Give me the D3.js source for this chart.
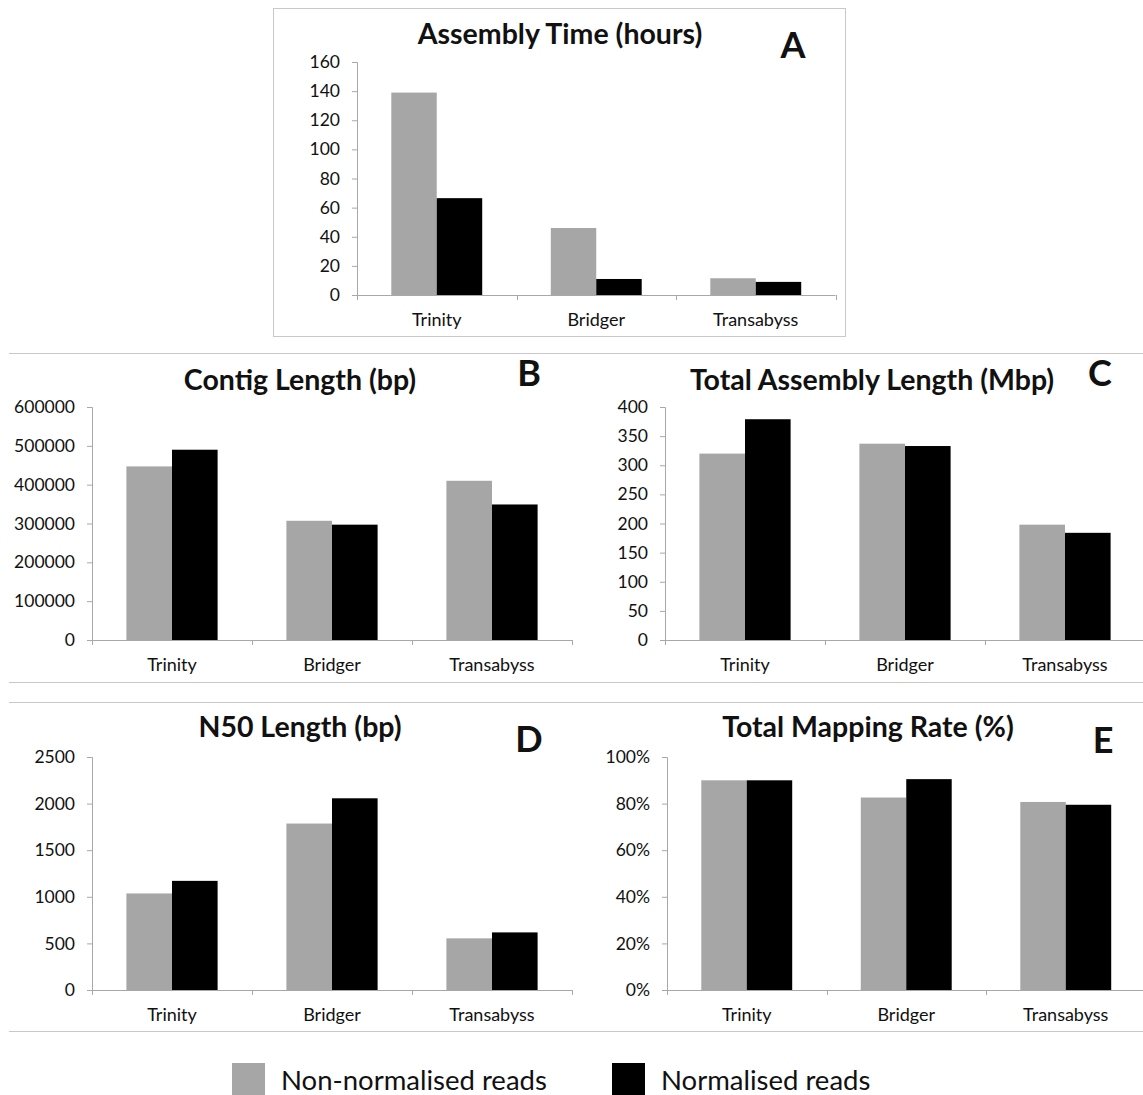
<!DOCTYPE html>
<html>
<head>
<meta charset="utf-8">
<script src="https://cdn.jsdelivr.net/npm/d3@7"></script>
<style>
  html, body { margin: 0; padding: 0; background: #fff; }
  svg { display: block; }
  text { font-family: Lato, "Open Sans", sans-serif; fill: #111; }
</style>
</head>
<body>
<svg id="fig" width="1143" height="1095"></svg>
<script>
// Assemblers compared in every panel
const categories = ["Trinity", "Bridger", "Transabyss"];
const seriesNames = ["Non-normalised reads", "Normalised reads"];
const seriesColors = ["#a6a6a6", "#000000"];

// A: assembly time (hours)
const timeNonNorm = [139, 46, 11.5];
const timeNorm = [66.5, 11, 9];
const timeTicks = [0, 20, 40, 60, 80, 100, 120, 140, 160];

// B: contig length (bp)
const contigNonNorm = [447000, 307000, 410000];
const contigNorm = [490000, 297000, 349000];
const contigTicks = [0, 100000, 200000, 300000, 400000, 500000, 600000];

// C: total assembly length (Mbp)
const totalLenNonNorm = [320, 337, 198];
const totalLenNorm = [379, 333, 184];
const totalLenTicks = [0, 50, 100, 150, 200, 250, 300, 350, 400];

// D: N50 length (bp)
const n50NonNorm = [1036, 1786, 554];
const n50Norm = [1171, 2057, 618];
const n50Ticks = [0, 500, 1000, 1500, 2000, 2500];

// E: total mapping rate (fraction)
const mapNonNorm = [0.90, 0.826, 0.807];
const mapNorm = [0.90, 0.905, 0.795];
const mapTicks = [0, 0.2, 0.4, 0.6, 0.8, 1.0];

const svg = d3.select("#fig");
const axisColor = "#a8a8a8";
const frameColor = "#c8c8c8";

// Frame around panel A and separator lines around the lower rows
svg.append("rect")
  .attr("x", 273.5).attr("y", 8.5).attr("width", 572).attr("height", 328)
  .attr("fill", "none").attr("stroke", frameColor);
[353.5, 682.5, 702.5, 1031.5].forEach(y => {
  svg.append("line").attr("x1", 9).attr("x2", 1143).attr("y1", y).attr("y2", y)
    .attr("stroke", frameColor);
});

function drawPanel(cfg) {
  const g = svg.append("g");
  const x = d3.scaleBand().domain(categories)
    .range([cfg.axisX, cfg.axisX + 3 * cfg.step])
    .paddingInner(0.43).paddingOuter(0.215);
  const xs = d3.scaleBand().domain([0, 1]).range([0, x.bandwidth()]);
  const y = d3.scaleLinear().domain([0, cfg.max]).range([cfg.y0, cfg.yTop]);

  // value axis
  const yAxis = d3.axisLeft(y).tickValues(cfg.ticks).tickSize(5).tickPadding(12)
    .tickFormat(cfg.fmt || d3.format("d"));
  const ya = g.append("g").attr("transform", `translate(${cfg.axisX},0)`).call(yAxis);
  ya.select(".domain").attr("stroke", axisColor);
  ya.selectAll(".tick line").attr("stroke", axisColor);
  ya.selectAll(".tick text").attr("font-size", 17.5).attr("fill", "#111")
    .attr("font-family", "Lato, sans-serif");

  // bars
  const data = [];
  categories.forEach((c, i) => {
    data.push({ c, s: 0, v: cfg.a[i] });
    data.push({ c, s: 1, v: cfg.b[i] });
  });
  g.selectAll("rect.bar").data(data).join("rect")
    .attr("class", "bar")
    .attr("x", d => x(d.c) + xs(d.s))
    .attr("width", xs.bandwidth())
    .attr("y", d => y(d.v))
    .attr("height", d => cfg.y0 - y(d.v))
    .attr("fill", d => seriesColors[d.s]);

  // category axis with ticks at the band boundaries
  const xa = g.append("g").attr("transform", `translate(0,${cfg.y0})`);
  xa.append("line").attr("x1", cfg.axisX - 5).attr("x2", cfg.axisX + 3 * cfg.step)
    .attr("y1", 0.5).attr("y2", 0.5).attr("stroke", axisColor);
  d3.range(4).forEach(k => {
    const bx = Math.round(cfg.axisX + k * cfg.step) + 0.5;
    xa.append("line").attr("x1", bx).attr("x2", bx).attr("y1", 0).attr("y2", 5)
      .attr("stroke", axisColor);
  });
  xa.selectAll("text.cat").data(categories).join("text")
    .attr("class", "cat")
    .attr("x", d => x(d) + x.bandwidth() / 2)
    .attr("y", 31)
    .attr("text-anchor", "middle")
    .attr("font-size", 18)
    .text(d => d);

  // title and panel letter
  g.append("text").attr("x", cfg.titleX).attr("y", cfg.titleY)
    .attr("text-anchor", "middle").attr("font-weight", "bold")
    .attr("font-size", 28.5).text(cfg.title);
  g.append("text").attr("x", cfg.letterX).attr("y", cfg.letterY)
    .attr("text-anchor", "middle").attr("font-weight", "bold")
    .attr("font-size", 36).text(cfg.letter);
}

drawPanel({ title: "Assembly Time (hours)", letter: "A", a: timeNonNorm, b: timeNorm,
  ticks: timeTicks, max: 160, axisX: 357, step: 159.5, y0: 295, yTop: 62,
  titleX: 560, titleY: 44, letterX: 793, letterY: 58 });

drawPanel({ title: "Contig Length (bp)", letter: "B", a: contigNonNorm, b: contigNorm,
  ticks: contigTicks, max: 600000, axisX: 92, step: 160, y0: 640, yTop: 407,
  titleX: 300, titleY: 390, letterX: 529, letterY: 386 });

drawPanel({ title: "Total Assembly Length (Mbp)", letter: "C", a: totalLenNonNorm, b: totalLenNorm,
  ticks: totalLenTicks, max: 400, axisX: 665, step: 160, y0: 640, yTop: 407,
  titleX: 872, titleY: 390, letterX: 1100, letterY: 386 });

drawPanel({ title: "N50 Length (bp)", letter: "D", a: n50NonNorm, b: n50Norm,
  ticks: n50Ticks, max: 2500, axisX: 92, step: 160, y0: 990, yTop: 757,
  titleX: 300, titleY: 737, letterX: 529, letterY: 752 });

drawPanel({ title: "Total Mapping Rate (%)", letter: "E", a: mapNonNorm, b: mapNorm,
  ticks: mapTicks, max: 1, axisX: 667, step: 159.5, y0: 990, yTop: 757,
  fmt: d3.format(".0%"),
  titleX: 868, titleY: 737, letterX: 1103, letterY: 753 });

// legend
const legend = svg.append("g");
const legendX = [232, 612];
seriesNames.forEach((name, i) => {
  legend.append("rect").attr("x", legendX[i]).attr("y", 1063)
    .attr("width", 33).attr("height", 33).attr("fill", seriesColors[i]);
  legend.append("text").attr("x", legendX[i] + 49).attr("y", 1090)
    .attr("font-size", 27.5).text(name);
});
</script>
</body>
</html>
